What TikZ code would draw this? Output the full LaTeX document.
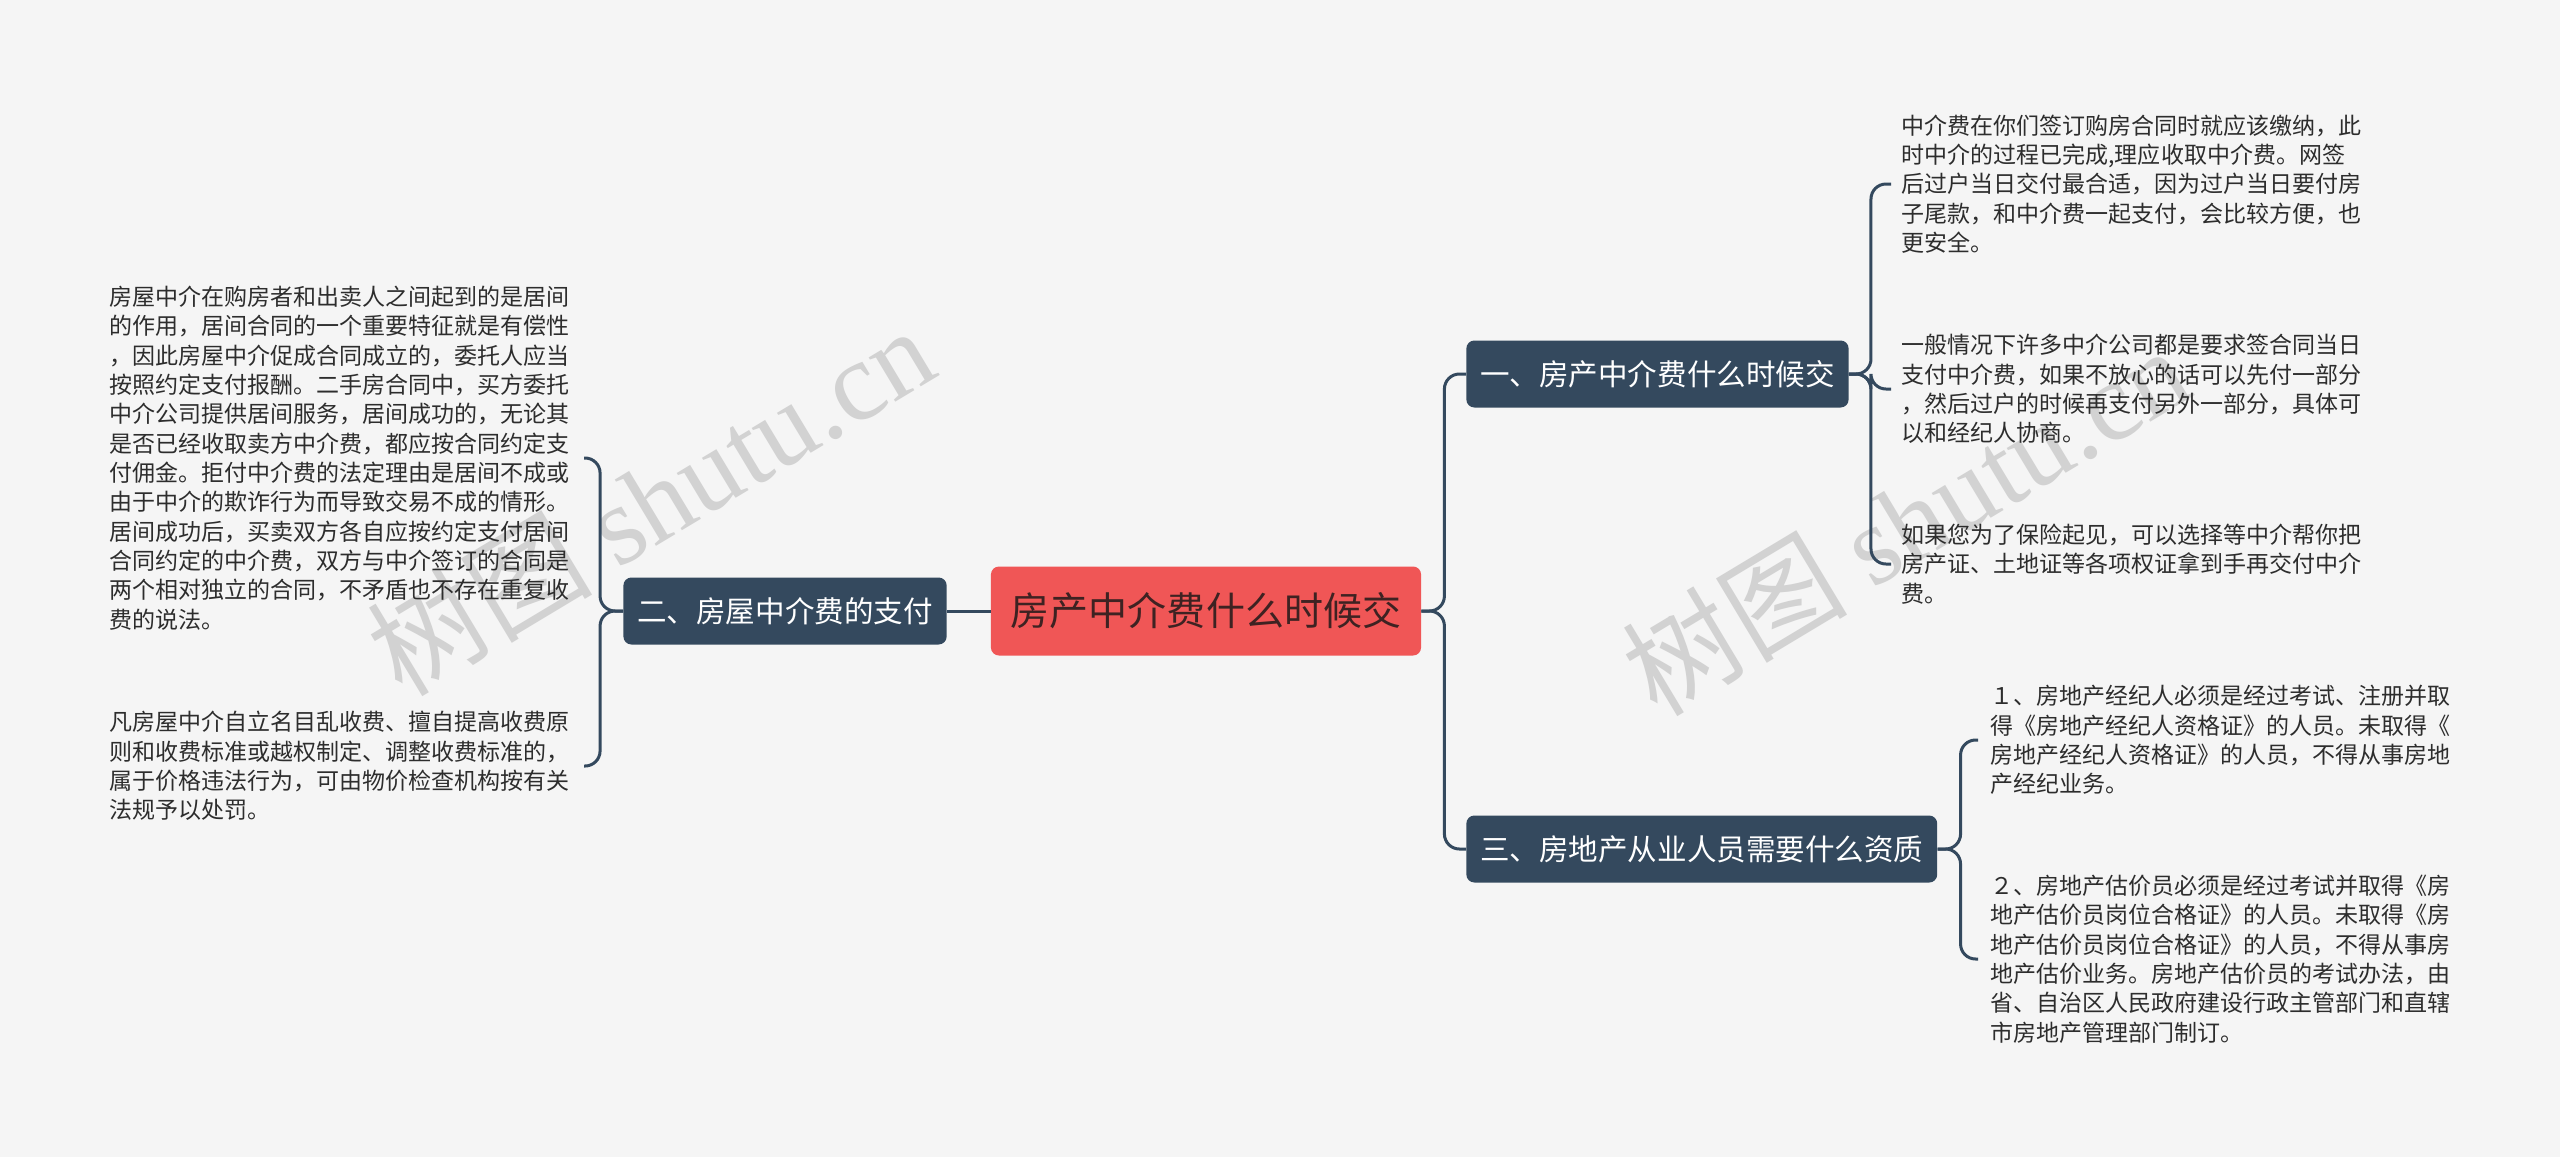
\documentclass[tikz,border=0pt]{standalone}
\usepackage{fontspec}
\setmainfont{Noto Sans CJK SC}
\newfontfamily\wmlatin{Liberation Serif}
\definecolor{bgcol}{RGB}{245,245,245}
\definecolor{rootcol}{RGB}{240,86,86}
\definecolor{rootink}{RGB}{62,34,34}
\definecolor{topiccol}{RGB}{52,73,94}
\definecolor{leafink}{RGB}{45,45,45}
\definecolor{wmark}{RGB}{210,210,210}
\tikzset{
  rootbox/.style={fill=rootcol,rounded corners=1.6mm,text=rootink,minimum height=17.8mm,inner xsep=4mm,inner ysep=0pt,font=\fontsize{22.2pt}{26pt}\selectfont},
  topicbox/.style={fill=topiccol,rounded corners=1.6mm,text=white,minimum height=13.4mm,inner xsep=2.8mm,inner ysep=0pt,font=\fontsize{16.8pt}{20pt}\selectfont},
  leaftext/.style={text=leafink,align=left,inner sep=0pt,font=\fontsize{13.1pt}{16.7pt}\selectfont},
  link/.style={draw=topiccol,line width=.6mm,rounded corners=3mm},
  wmtext/.style={text=wmark,font=\fontsize{64pt}{70pt}\selectfont,rotate=31}
}

\begin{document}
\begin{tikzpicture}[x=.2mm,y=-.2mm]
  \useasboundingbox (0,0) rectangle (2560,1157);
  \fill[bgcol] (0,0) rectangle (2560,1157);
  \node[wmtext] (wm1) at (650,500) {树图 {\wmlatin shutu.cn}};
  \node[wmtext] (wm2) at (1905,520) {树图 {\wmlatin shutu.cn}};

  \node[rootbox] (root) at (1206,611) {房产中介费什么时候交};
  \node[topicbox,anchor=east] (n2) at (947,611) {二、房屋中介费的支付};
  \node[topicbox,anchor=west] (n1) at (1466,374) {一、房产中介费什么时候交};
  \node[topicbox,anchor=west] (n3) at (1466,849) {三、房地产从业人员需要什么资质};

  \node[leaftext,anchor=west] (l1) at (109,458) {房屋中介在购房者和出卖人之间起到的是居间\\的作用，居间合同的一个重要特征就是有偿性\\，因此房屋中介促成合同成立的，委托人应当\\按照约定支付报酬。二手房合同中，买方委托\\中介公司提供居间服务，居间成功的，无论其\\是否已经收取卖方中介费，都应按合同约定支\\付佣金。拒付中介费的法定理由是居间不成或\\由于中介的欺诈行为而导致交易不成的情形。\\居间成功后，买卖双方各自应按约定支付居间\\合同约定的中介费，双方与中介签订的合同是\\两个相对独立的合同，不矛盾也不存在重复收\\费的说法。};
  \node[leaftext,anchor=west] (l2) at (109,766) {凡房屋中介自立名目乱收费、擅自提高收费原\\则和收费标准或越权制定、调整收费标准的，\\属于价格违法行为，可由物价检查机构按有关\\法规予以处罚。};

  \node[leaftext,anchor=west] (a1) at (1901,184) {中介费在你们签订购房合同时就应该缴纳，此\\时中介的过程已完成,理应收取中介费。网签\\后过户当日交付最合适，因为过户当日要付房\\子尾款，和中介费一起支付，会比较方便，也\\更安全。};
  \node[leaftext,anchor=west] (a2) at (1901,389) {一般情况下许多中介公司都是要求签合同当日\\支付中介费，如果不放心的话可以先付一部分\\，然后过户的时候再支付另外一部分，具体可\\以和经纪人协商。};
  \node[leaftext,anchor=west] (a3) at (1901,564) {如果您为了保险起见，可以选择等中介帮你把\\房产证、土地证等各项权证拿到手再交付中介\\费。};

  \node[leaftext,anchor=west] (b1) at (1990,740) {１、房地产经纪人必须是经过考试、注册并取\\得《房地产经纪人资格证》的人员。未取得《\\房地产经纪人资格证》的人员，不得从事房地\\产经纪业务。};
  \node[leaftext,anchor=west] (b2) at (1990,959) {２、房地产估价员必须是经过考试并取得《房\\地产估价员岗位合格证》的人员。未取得《房\\地产估价员岗位合格证》的人员，不得从事房\\地产估价业务。房地产估价员的考试办法，由\\省、自治区人民政府建设行政主管部门和直辖\\市房地产管理部门制订。};

  \draw[link] (root.west) -- (n2.east);
  \draw[link] (root.east) -- ++(23,0) |- (n1.west);
  \draw[link] (root.east) -- ++(23,0) |- (n3.west);
  \draw[link] (n2.west) -- ++(-23,0) |- ([xshift=2.8mm]l1.east);
  \draw[link] (n2.west) -- ++(-23,0) |- ([xshift=2.8mm]l2.east);
  \draw[link] (n1.east) -- ++(22,0) |- ([xshift=-2mm]a1.west);
  \draw[link] (n1.east) -- ++(22,0) |- ([xshift=-2mm]a2.west);
  \draw[link] (n1.east) -- ++(22,0) |- ([xshift=-2mm]a3.west);
  \draw[link] (n3.east) -- ++(23,0) |- ([xshift=-2.4mm]b1.west);
  \draw[link] (n3.east) -- ++(23,0) |- ([xshift=-2.4mm]b2.west);
\end{tikzpicture}
\end{document}
